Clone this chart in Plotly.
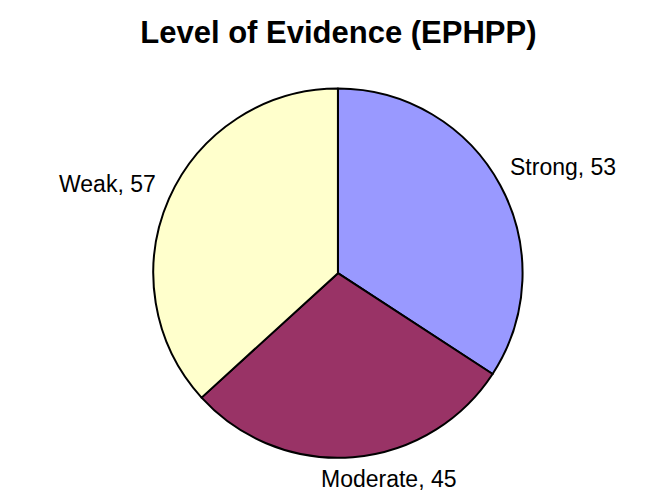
import plotly.graph_objects as go

# values
labels = ["Strong", "Moderate", "Weak"]
counts = [53, 45, 57]
colors = ["#9999FF", "#993366", "#FFFFCC"]

# where Excel put the data labels (paper coords, anchors)
label_pos = {
    "Strong": dict(x=0.766, y=0.680, xanchor="left", yanchor="middle"),
    "Moderate": dict(x=0.584, y=0.022, xanchor="center", yanchor="bottom"),
    "Weak": dict(x=0.230, y=0.646, xanchor="right", yanchor="middle"),
}

fig = go.Figure(go.Pie(
    labels=labels,
    values=counts,
    sort=False,
    direction="clockwise",
    rotation=0,
    marker=dict(colors=colors, line=dict(color="black", width=2)),
    textinfo="none",
    domain=dict(x=[0.2205, 0.790], y=[0.095, 0.838]),
    showlegend=False,
    hoverinfo="label+value",
))

for lab, n in zip(labels, counts):
    fig.add_annotation(text=f"{lab}, {n}", xref="paper", yref="paper",
                       showarrow=False,
                       font=dict(family="Liberation Sans, Arial", size=23, color="black"),
                       **label_pos[lab])

fig.update_layout(
    width=653, height=497,
    margin=dict(l=0, r=0, t=0, b=0),
    paper_bgcolor="white",
    title=dict(text="<b>Level of Evidence (EPHPP)</b>", x=0.506, xanchor="center",
               y=0.952, yanchor="middle",
               font=dict(family="Liberation Sans, Arial", size=31, color="black")),
)

fig.write_html("out.html")
